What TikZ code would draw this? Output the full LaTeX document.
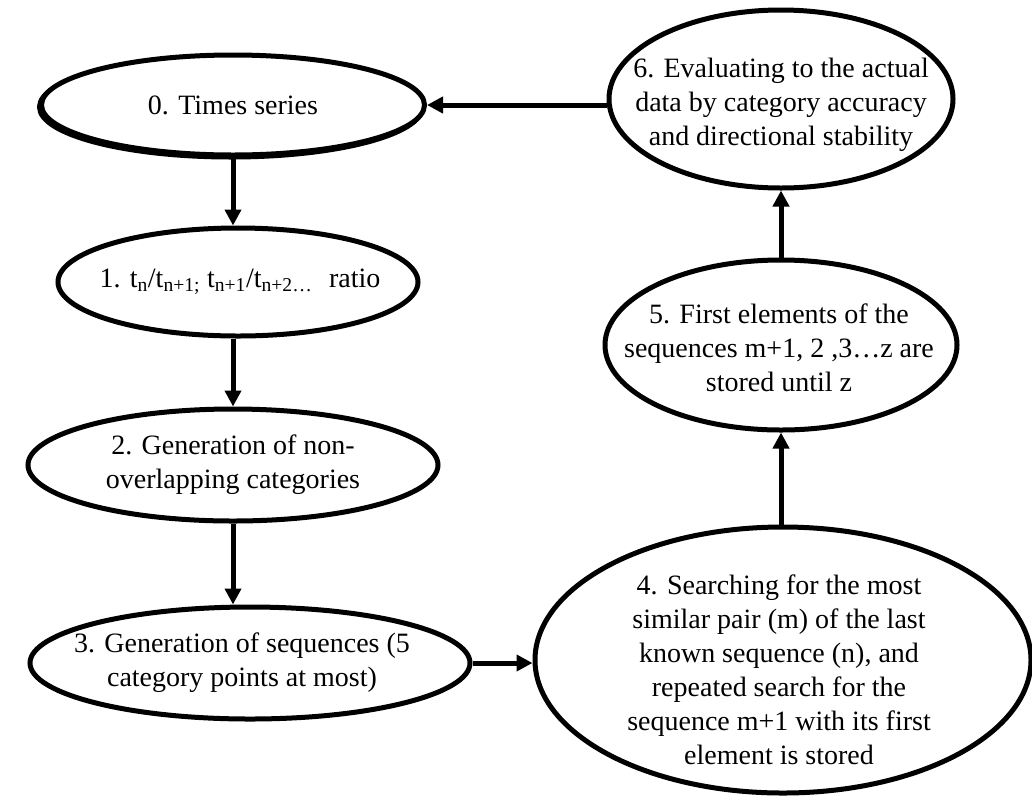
\documentclass[tikz,border=0pt]{standalone}
\usepackage{fontspec}
\setmainfont{Liberation Serif}
\usetikzlibrary{shapes.geometric, arrows.meta}
\begin{document}
\begin{tikzpicture}[x=1pt, y=-1pt,
  oval/.style={draw, ellipse, line width=5pt, inner sep=0pt},
  ovaltext/.style={align=center, inner sep=0pt, font=\fontsize{28}{34}\selectfont},
  flow/.style={line width=5pt, -{Triangle[length=16pt, width=16pt]}}
]
\useasboundingbox (0,0) rectangle (1032,796);

% left column (the first oval has a slight offset shadow under its outline)
\node[oval, minimum width=383pt, minimum height=100pt] (n0s) at (231,107) {};
\node[oval, fill=white, minimum width=383pt, minimum height=100pt] (n0) at (233,105) {};
\node[ovaltext] (n0t) at (233,105) {0. Times series};

\node[oval, minimum width=360pt, minimum height=108pt] (n1) at (238,282) {};
\node[ovaltext] (n1t) at (240,282) {1. t\textsubscript{n}/t\textsubscript{n+1;} t\textsubscript{n+1}/t\textsubscript{n+2…}\hspace{0.6em}ratio};

\node[oval, minimum width=410pt, minimum height=112pt] (n2) at (233,465) {};
\node[ovaltext] (n2t) at (233,465) {2. Generation of non-\\overlapping categories};

\node[oval, minimum width=440pt, minimum height=112pt] (n3) at (250,663) {};
\node[ovaltext] (n3t) at (242,663) {3. Generation of sequences (5\\category points at most)};

% right column
\node[oval, minimum width=344pt, minimum height=178pt] (n6) at (781,99) {};
\node[ovaltext] (n6t) at (781,105) {6. Evaluating to the actual\\data by category accuracy\\and directional stability};

\node[oval, minimum width=352pt, minimum height=170pt] (n5) at (781,345) {};
\node[ovaltext] (n5t) at (779,348) {5. First elements of the\\sequences m+1, 2 ,3…z are\\stored until z};

\node[oval, minimum width=496pt, minimum height=266pt] (n4) at (783,660) {};
\node[ovaltext] (n4t) at (779,670) {4. Searching for the most\\similar pair (m) of the last\\known sequence (n), and\\repeated search for the\\sequence m+1 with its first\\element is stored};

% connectors
\draw[flow] (n0.south) -- (n0.south |- n1.north);
\draw[flow] (n1.south -| n2.south) -- (n2.north);
\draw[flow] (n2.south) -- (n2.south |- n3.north);
\draw[flow] (n3.east) -- (n3.east -| n4.west);
\draw[flow] (n4.north -| n5.south) -- (n5.south);
\draw[flow] (n5.north) -- (n5.north |- n6.south);
\draw[flow] (n0.east -| n6.west) -- (n0.east);
\end{tikzpicture}
\end{document}
